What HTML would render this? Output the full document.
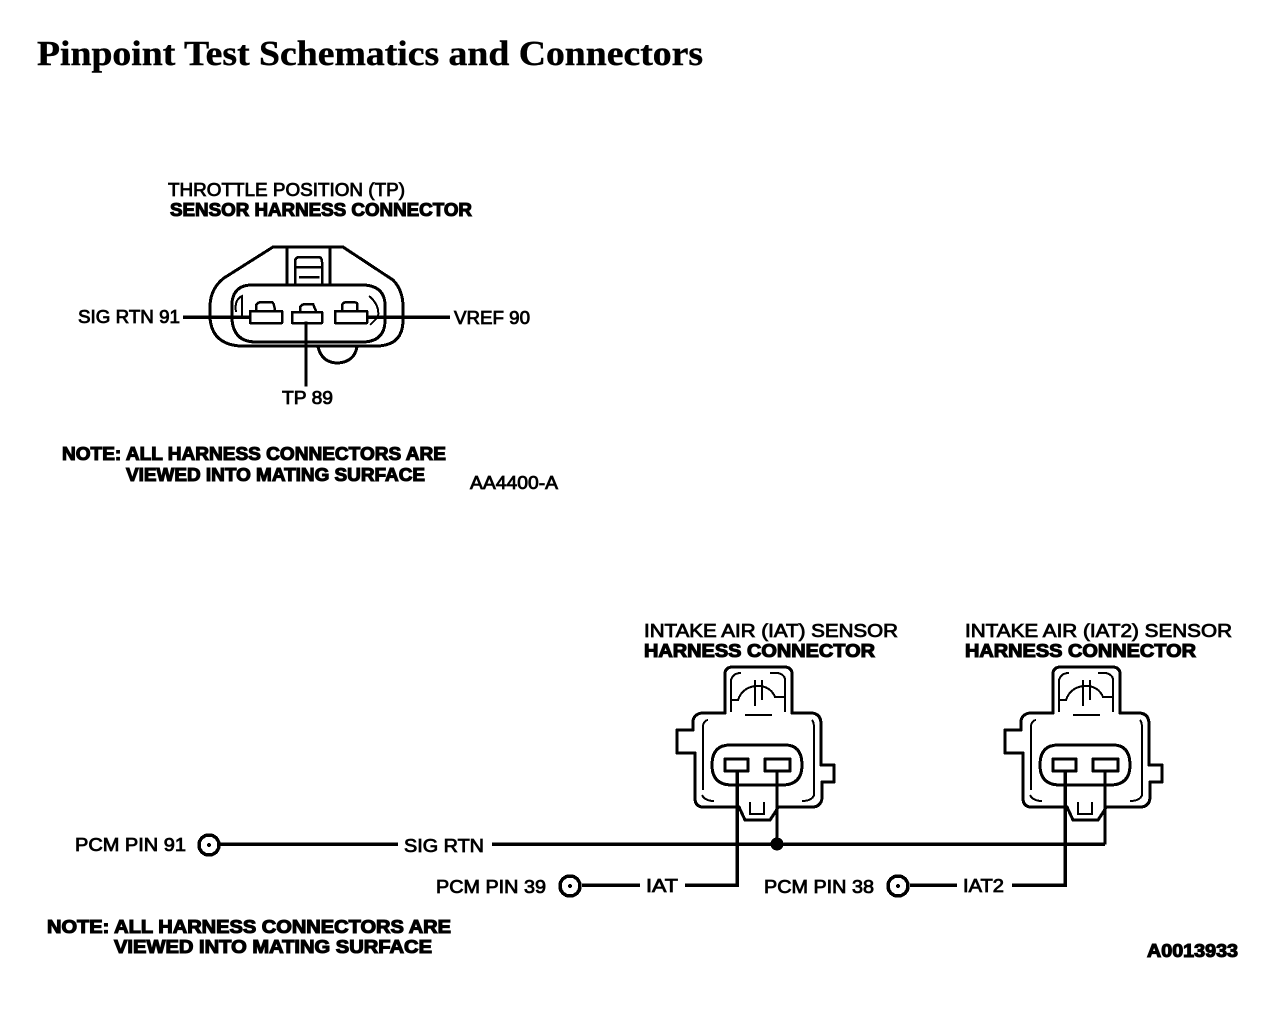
<!DOCTYPE html>
<html><head><meta charset="utf-8"><style>
html,body{margin:0;padding:0;background:#fff;width:1280px;height:1014px;overflow:hidden}
svg{display:block;shape-rendering:crispEdges}
text{font-family:"Liberation Sans",sans-serif;font-size:18px;fill:#000;stroke:#000;stroke-width:.8}
.b{font-weight:bold;stroke-width:1.1}
.t{font-family:"Liberation Serif",serif;font-weight:bold;font-size:35px;stroke:#000;stroke-width:.4}
.l{fill:none;stroke:#000;stroke-width:2.5;stroke-linejoin:round;stroke-linecap:square}
.o{fill:none;stroke:#000;stroke-width:3;stroke-linejoin:round;stroke-linecap:square}
.w{fill:none;stroke:#000;stroke-width:3.5;stroke-linejoin:miter}
.n{fill:none;stroke:#000;stroke-width:2}
</style></head><body>
<svg width="1280" height="1014" viewBox="0 0 1280 1014" xmlns="http://www.w3.org/2000/svg">
<text class="t" x="37" y="65" textLength="666" lengthAdjust="spacingAndGlyphs">Pinpoint Test Schematics and Connectors</text>

<text x="168" y="196" textLength="237" lengthAdjust="spacingAndGlyphs">THROTTLE POSITION (TP)</text>
<text class="b" x="170" y="216" textLength="302" lengthAdjust="spacingAndGlyphs">SENSOR HARNESS CONNECTOR</text>
<text x="78" y="323" textLength="102" lengthAdjust="spacingAndGlyphs">SIG RTN 91</text>
<text x="454" y="324" textLength="76" lengthAdjust="spacingAndGlyphs">VREF 90</text>
<text x="282" y="404" textLength="51" lengthAdjust="spacingAndGlyphs">TP 89</text>
<text class="b" x="62" y="460" textLength="384" lengthAdjust="spacingAndGlyphs">NOTE: ALL HARNESS CONNECTORS ARE</text>
<text class="b" x="126" y="481" textLength="299" lengthAdjust="spacingAndGlyphs">VIEWED INTO MATING SURFACE</text>
<text x="470" y="489" textLength="88" lengthAdjust="spacingAndGlyphs">AA4400-A</text>

<!-- TP connector -->
<path class="o" d="M273 247 H343 L393 280 Q403 290 403 307 V322 Q402 345 378 346 H240 Q212 344 210 318 V305 Q211 288 224 278 Z"/>
<path class="o" d="M287 247 V283 M330 247 V283"/>
<path class="l" d="M295 283 V262 Q295 257 300 257 H318 Q322 257 322 262 V283 M295 267 H322 M300 277 H318"/>
<path class="o" d="M232 320 V302 Q234 285 252 285 H365 Q385 287 385 305 V322 Q384 342 362 342 H256 Q234 342 232 320 Z"/>
<path class="n" d="M236 312 Q234 300 242 296 V317 M369 296 Q380 305 378 317 L370 325"/>
<path class="l" d="M250 311 H282 V323 H250 Z M256 311 V305 Q258 302 262 302 H272 Q274 303 275 310"/>
<path class="l" d="M292 312 H322 V323 H292 Z M300 312 V307 Q302 304 306 304 H313 L316 311"/>
<path class="l" d="M335 311 H367 V323 H335 Z M342 311 V305 Q343 302 348 302 H354 L357 303 V311"/>
<path class="o" d="M318 347 Q322 363 338 363 Q354 362 357 347"/>
<path class="w" d="M183 317 H250 M367 317 H450"/>
<path class="o" d="M306 323 V385"/>

<!-- Labels lower -->
<text x="644" y="637" textLength="254" lengthAdjust="spacingAndGlyphs">INTAKE AIR (IAT) SENSOR</text>
<text class="b" x="644" y="657" textLength="231" lengthAdjust="spacingAndGlyphs">HARNESS CONNECTOR</text>
<text x="965" y="637" textLength="267" lengthAdjust="spacingAndGlyphs">INTAKE AIR (IAT2) SENSOR</text>
<text class="b" x="965" y="657" textLength="231" lengthAdjust="spacingAndGlyphs">HARNESS CONNECTOR</text>
<text x="75" y="851" textLength="111" lengthAdjust="spacingAndGlyphs">PCM PIN 91</text>
<text x="404" y="852" textLength="80" lengthAdjust="spacingAndGlyphs">SIG RTN</text>
<text x="436" y="893" textLength="110" lengthAdjust="spacingAndGlyphs">PCM PIN 39</text>
<text x="646" y="892" textLength="32" lengthAdjust="spacingAndGlyphs">IAT</text>
<text x="764" y="893" textLength="110" lengthAdjust="spacingAndGlyphs">PCM PIN 38</text>
<text x="963" y="892" textLength="41" lengthAdjust="spacingAndGlyphs">IAT2</text>
<text class="b" x="47" y="933" textLength="404" lengthAdjust="spacingAndGlyphs">NOTE: ALL HARNESS CONNECTORS ARE</text>
<text class="b" x="114" y="953" textLength="318" lengthAdjust="spacingAndGlyphs">VIEWED INTO MATING SURFACE</text>
<text class="b" x="1147" y="957" textLength="91" lengthAdjust="spacingAndGlyphs">A0013933</text>

<defs>
<g id="c">
<path class="o" d="M725 713 V674 Q725 667 733 667 H784 Q792 667 792 674 V713 H812 Q821 714 821 724 V765 H834 V782 H822 V798 Q821 807 812 807 H778 L776 811 L770 820 H745 L739 807 H702 Q695 806 695 798 V753 H677 V730 H693 V721 Q694 714 702 713 Z"/>
<path class="n" d="M731 712 V680 Q733 673 741 673 M770 673 H778 Q786 675 785 682 V712"/>
<path class="n" d="M703 790 V725 Q705 720 708 720 M812 720 Q814 722 814 728 V795 Q812 801 802 801 M702 795 Q705 801 714 801"/>
<path class="n" d="M732 700 H738 Q742 688 755 686 Q770 685 775 697 H785 M755 680 V706 M762 680 V700 M745 715 H772" />
<path class="o" d="M712 765 Q712 745 730 745 H785 Q802 745 802 765 Q802 785 782 785 H732 Q712 785 712 765 Z"/>
<path class="o" d="M725 759 H748 V771 H725 Z M765 759 H790 V771 H765 Z"/>
<path class="n" d="M750 802 V814 H764 V802"/>
</g>
</defs>
<use href="#c"/>
<use href="#c" x="328"/>

<!-- wires -->
<path class="w" d="M220 844 H398 M492 844 H1105"/>
<path class="o" d="M1105 771 V843"/>
<path class="o" d="M777 771 V843"/>
<circle cx="777" cy="844" r="6.5" fill="#000"/>
<path class="w" d="M582 885 H640 M685 885 H737 V771"/>
<path class="w" d="M910 885 H957 M1012 885 H1065 V771"/>

<g fill="#fff" stroke="#000" stroke-width="3.5">
<circle cx="209" cy="845" r="10"/>
<circle cx="570" cy="886" r="10"/>
<circle cx="898" cy="886" r="10"/>
</g>
<g fill="#000">
<circle cx="209" cy="845" r="2"/>
<circle cx="570" cy="886" r="2"/>
<circle cx="898" cy="886" r="2"/>
</g>
</svg>
</body></html>
